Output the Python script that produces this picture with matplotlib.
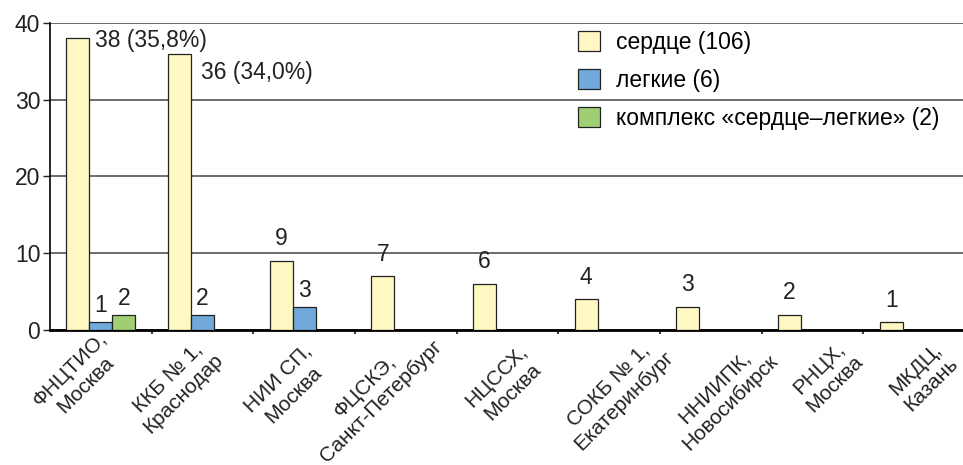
import numpy as np
import matplotlib.pyplot as plt

plt.rcParams['font.family'] = ['Liberation Sans', 'DejaVu Sans']

centers = ['ФНЦТИО,\nМосква', 'ККБ № 1,\nКраснодар', 'НИИ СП,\nМосква',
           'ФЦСКЭ,\nСанкт-Петербург', 'НЦССХ,\nМосква', 'СОКБ № 1,\nЕкатеринбург',
           'ННИИПК,\nНовосибирск', 'РНЦХ,\nМосква', 'МКДЦ,\nКазань']
heart = [38, 36, 9, 7, 6, 4, 3, 2, 1]
lungs = [1, 2, 3, 0, 0, 0, 0, 0, 0]
complex_hl = [2, 0, 0, 0, 0, 0, 0, 0, 0]
labels = ['сердце (106)', 'легкие (6)', 'комплекс «сердце–легкие» (2)']
heart_text = ['38 (35,8%)', '36 (34,0%)', '9', '7', '6', '4', '3', '2', '1']

# nudges of the rotated category labels (pixels right / down), as in the original layout
lab_dx = [11, 10, 12, 25, 25, 54, 56, 40, 33]
lab_dy = [13, 19, 26, 6, 26, 16, 20, 21, 23]

fig = plt.figure(figsize=(9.63, 4.65), dpi=100)
ax = fig.add_axes([0.052, 0.29, 0.95, 0.661])

x = np.arange(len(centers))
w = 0.226
fs = 16.5
b1 = ax.bar(x - w, heart, w, color='#fff8c2', edgecolor='#222222', linewidth=0.9, label=labels[0], zorder=3)
b2 = ax.bar(x, lungs, w, color='#72a9db', edgecolor='#222222', linewidth=0.9, label=labels[1], zorder=3)
b3 = ax.bar(x + w, complex_hl, w, color='#9fcf72', edgecolor='#222222', linewidth=0.9, label=labels[2], zorder=3)
# hide empty bars
for bars, vals in ((b2, lungs), (b3, complex_hl)):
    for r, v in zip(bars, vals):
        if v == 0:
            r.set_visible(False)

# value labels
for i, (v, t) in enumerate(zip(heart, heart_text)):
    if i == 0:
        ax.annotate(t, (x[i] - w / 2, v), xytext=(4, -2), textcoords='offset points',
                    ha='left', va='center', fontsize=fs, color='#222222')
    elif i == 1:
        ax.annotate(t, (x[i] - w / 2, v), xytext=(7, -14), textcoords='offset points',
                    ha='left', va='center', fontsize=fs, color='#222222')
    else:
        ax.annotate(t, (x[i] - w, v), xytext=(0, 16), textcoords='offset points',
                    ha='center', va='center', fontsize=fs, color='#222222')
for i, v in enumerate(lungs):
    if v:
        ax.annotate(str(v), (x[i], v), xytext=(0, 12), textcoords='offset points',
                    ha='center', va='center', fontsize=fs, color='#222222')
for i, v in enumerate(complex_hl):
    if v:
        ax.annotate(str(v), (x[i] + w, v), xytext=(0, 12), textcoords='offset points',
                    ha='center', va='center', fontsize=fs, color='#222222')

ax.set_xlim(-0.5, len(centers) - 0.5)
ax.set_ylim(0, 40)
ax.set_yticks([0, 10, 20, 30, 40])
ax.yaxis.grid(True, color='#444444', linewidth=1.1, zorder=0)
ax.tick_params(axis='y', labelsize=16.5, length=5, width=1, colors='#222222', pad=2)

# category labels, rotated
ax.set_xticks(x)
ax.set_xticklabels([])
px = 72 / fig.dpi
for i, c in enumerate(centers):
    ax.annotate(c, (x[i], 0), xytext=(lab_dx[i] * px, -lab_dy[i] * px), textcoords='offset points',
                rotation=45, ha='right', va='center', rotation_mode='anchor',
                fontsize=15, multialignment='center', color='#222222', annotation_clip=False)
ax.set_xticks(np.arange(0.5, len(centers) - 0.5, 1), minor=True)
ax.tick_params(axis='x', which='major', length=0)
ax.tick_params(axis='x', which='minor', length=3, width=1.5, colors='#444444')

for s in ('top', 'right'):
    ax.spines[s].set_visible(False)
ax.spines['bottom'].set_linewidth(2)
ax.spines['left'].set_linewidth(1.2)

ax.legend(loc='upper left', bbox_to_anchor=(0.555, 1.04), frameon=False, fontsize=16.5,
          handlelength=0.95, handleheight=0.95, labelspacing=0.65, handletextpad=0.7)

fig.savefig('out.png', dpi=100)
